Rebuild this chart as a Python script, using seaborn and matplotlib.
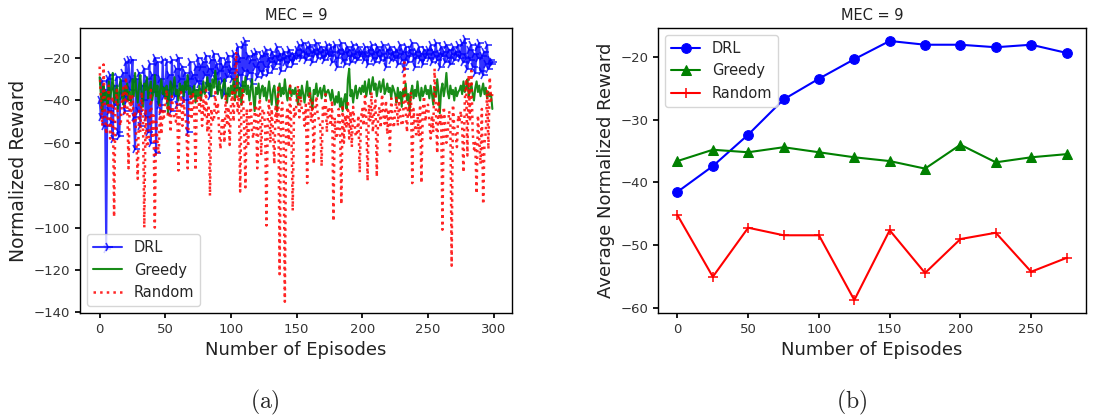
import numpy as np
import pandas as pd
import matplotlib
matplotlib.use("Agg")
import matplotlib.pyplot as plt
import seaborn as sns

# ---- per-episode normalized reward (left panel) ----
drl_reward = [
    -40, -48, -31, -52, -35, -110, -30, -45, -28, -50, -58, -33, -42, -29, -55, -57, -31, -38, -27, -45, -22, -40, -21, -35, -30,
    -21, -48, -63, -30, -45, -27, -52, -33, -40, -25, -48, -30, -55, -23, -60, -28, -36, -20, -65, -22, -42, -30, -45, -21, -38,
    -35, -22, -40, -28, -45, -21, -33, -38, -25, -42, -20, -30, -36, -24, -40, -27, -33, -55, -30, -22, -38, -28, -35, -24, -31,
    -20, -32, -24, -36, -22, -28, -19, -33, -25, -38, -21, -27, -18, -30, -23, -35, -26, -20, -31, -24, -37, -22, -29, -19, -27,
    -25, -30, -18, -34, -22, -15, -28, -20, -33, -14, -26, -12, -30, -19, -27, -21, -32, -18, -24, -17, -29, -22, -26, -19, -28,
    -18, -24, -16, -27, -20, -22, -17, -25, -19, -23, -15, -21, -18, -26, -20, -17, -22, -19, -24, -16, -21, -18, -23, -19, -20,
    -16, -19, -14, -20, -17, -13, -18, -21, -15, -19, -14, -17, -22, -16, -18, -13, -20, -17, -15, -19, -16, -21, -18, -14, -17,
    -19, -15, -22, -17, -14, -20, -24, -16, -18, -13, -21, -17, -23, -15, -19, -16, -22, -18, -14, -20, -17, -21, -15, -19, -18,
    -17, -21, -15, -19, -23, -16, -18, -14, -20, -17, -22, -15, -19, -16, -21, -18, -14, -20, -24, -16, -18, -15, -21, -17, -19,
    -20, -16, -23, -18, -14, -21, -17, -25, -15, -19, -22, -16, -18, -13, -20, -24, -17, -19, -15, -21, -18, -23, -16, -20, -18,
    -16, -20, -14, -22, -17, -19, -13, -21, -18, -24, -15, -19, -17, -22, -14, -20, -16, -23, -18, -15, -21, -17, -19, -14, -20,
    -18, -13, -22, -11, -20, -25, -16, -21, -14, -24, -18, -27, -15, -20, -13, -26, -19, -28, -17, -23, -14, -25, -21, -23, -22,
]

greedy_reward = [
    -29, -38, -45, -33, -40, -36, -42, -31, -39, -35, -27, -41, -37, -33, -44, -35, -30, -38, -42, -34, -37, -32, -40, -36, -41,
    -30, -38, -27, -36, -41, -33, -28, -37, -43, -32, -35, -29, -39, -34, -31, -40, -36, -28, -38, -33, -42, -35, -30, -37, -34,
    -39, -33, -46, -36, -31, -38, -34, -29, -37, -35, -40, -32, -36, -33, -38, -31, -35, -28, -37, -34, -39, -36, -33, -41, -35,
    -38, -33, -40, -36, -31, -37, -34, -29, -35, -32, -38, -30, -34, -26, -33, -37, -31, -35, -39, -33, -30, -36, -41, -34, -38,
    -33, -37, -30, -40, -35, -28, -38, -34, -42, -31, -36, -29, -37, -33, -40, -35, -30, -38, -45, -34, -37, -32, -39, -35, -33,
    -38, -34, -40, -36, -31, -37, -42, -35, -33, -39, -45, -36, -32, -38, -34, -37, -30, -36, -40, -35, -33, -38, -35, -37, -34,
    -38, -42, -35, -39, -33, -37, -41, -36, -31, -38, -34, -40, -44, -35, -37, -32, -38, -36, -34, -39, -35, -33, -38, -36, -35,
    -37, -40, -35, -39, -42, -38, -41, -36, -43, -39, -45, -40, -37, -44, -30, -25, -38, -35, -41, -36, -33, -39, -36, -34, -37,
    -33, -36, -31, -38, -34, -30, -37, -33, -29, -35, -32, -38, -34, -31, -36, -33, -30, -37, -35, -32, -36, -34, -39, -33, -35,
    -37, -41, -34, -39, -36, -43, -35, -38, -32, -40, -37, -45, -36, -33, -39, -35, -38, -31, -37, -40, -34, -38, -36, -33, -37,
    -35, -39, -33, -37, -42, -34, -38, -30, -36, -46, -35, -32, -38, -34, -27, -36, -39, -33, -37, -35, -40, -34, -38, -36, -35,
    -33, -37, -31, -36, -34, -30, -38, -35, -32, -37, -40, -34, -31, -36, -33, -38, -35, -32, -37, -34, -39, -36, -38, -37, -44,
]

random_reward = [
    -24, -40, -52, -23, -45, -56, -50, -33, -58, -42, -38, -95, -44, -35, -48, -50, -52, -40, -34, -46, -29, -41, -72, -37, -45,
    -38, -50, -45, -60, -77, -42, -55, -36, -48, -100, -44, -62, -60, -53, -35, -58, -47, -100, -50, -59, -65, -42, -56, -45, -48,
    -40, -35, -48, -42, -55, -38, -45, -48, -50, -41, -73, -44, -36, -52, -40, -47, -51, -72, -43, -38, -49, -36, -44, -73, -40,
    -38, -45, -36, -52, -40, -47, -35, -55, -42, -85, -44, -49, -50, -36, -46, -41, -55, -63, -50, -48, -60, -37, -52, -43, -61,
    -42, -36, -50, -30, -17, -45, -38, -83, -40, -35, -52, -81, -44, -62, -48, -40, -55, -58, -46, -42, -72, -45, -39, -66, -44,
    -45, -52, -99, -48, -40, -60, -44, -55, -70, -42, -50, -33, -122, -47, -41, -58, -135, -50, -43, -62, -33, -55, -92, -44, -48,
    -40, -33, -48, -38, -45, -45, -52, -42, -79, -44, -36, -50, -41, -70, -45, -38, -47, -49, -52, -71, -42, -48, -37, -55, -43,
    -45, -52, -40, -97, -48, -58, -56, -44, -50, -89, -42, -60, -47, -53, -40, -58, -45, -62, -43, -50, -57, -55, -47, -74, -48,
    -44, -52, -38, -47, -78, -42, -50, -36, -55, -45, -40, -76, -48, -43, -53, -37, -46, -51, -40, -56, -44, -64, -39, -48, -53,
    -45, -38, -52, -40, -47, -52, -50, -22, -43, -55, -41, -48, -36, -79, -44, -52, -56, -46, -57, -42, -79, -45, -38, -50, -43,
    -42, -50, -58, -47, -55, -25, -44, -65, -40, -52, -46, -101, -43, -50, -60, -56, -45, -48, -118, -42, -53, -56, -62, -47, -50,
    -45, -52, -74, -40, -30, -66, -28, -50, -26, -55, -63, -60, -84, -47, -58, -70, -44, -89, -60, -55, -35, -63, -29, -40, -37,
]

# ---- average normalized reward per 25-episode block (right panel) ----
block_start = [0, 25, 50, 75, 100, 125, 150, 175, 200, 225, 250, 275]
drl_avg = [-41.5, -37.4, -32.4, -26.8, -23.5, -20.4, -17.5, -18.1, -18.1, -18.5, -18.1, -19.4]
greedy_avg = [-36.6, -34.8, -35.2, -34.4, -35.2, -36.0, -36.6, -37.8, -34.0, -36.8, -36.0, -35.5]
random_avg = [-45.2, -55.0, -47.2, -48.4, -48.4, -58.7, -47.6, -54.4, -49.0, -48.0, -54.2, -52.0]

episodes = np.arange(len(drl_reward))

sns.set_theme(style="ticks", rc={
    "axes.edgecolor": "black",
    "axes.linewidth": 1.0,
    "xtick.color": "black",
    "ytick.color": "black",
    "xtick.labelcolor": "#333333",
    "ytick.labelcolor": "#333333",
    "xtick.labelsize": 9.5,
    "ytick.labelsize": 9.5,
    "xtick.major.size": 3.5,
    "ytick.major.size": 3.5,
    "legend.fontsize": 10.5,
    "mathtext.fontset": "cm",
})
plt.rcParams["font.family"] = ["DejaVu Sans"]

fig = plt.figure(figsize=(10.97, 4.17), dpi=100)
W, H = 1097, 417
ax1 = fig.add_axes([80 / W, 1 - 313 / H, (512 - 80) / W, (313 - 28) / H])
ax2 = fig.add_axes([658 / W, 1 - 313 / H, (1086 - 658) / W, (313 - 28) / H])

# (a) per-episode rewards
sns.lineplot(x=episodes, y=drl_reward, ax=ax1, color="blue", alpha=0.8,
             marker="4", markersize=7, markeredgecolor="blue", markeredgewidth=1.2,
             linewidth=1.5, label="DRL")
sns.lineplot(x=episodes, y=greedy_reward, ax=ax1, color="green", alpha=0.9,
             linewidth=1.5, label="Greedy")
sns.lineplot(x=episodes, y=random_reward, ax=ax1, color="red", alpha=0.85,
             linestyle=":", linewidth=1.8, label="Random")
ax1.set_ylim(-140.3, -5.8)
ax1.set_xticks([0, 50, 100, 150, 200, 250, 300])
ax1.set_title("MEC = 9", fontsize=10.5, color="#222222")
ax1.set_xlabel("Number of Episodes", fontsize=13, color="#222222")
ax1.set_ylabel("Normalized Reward", fontsize=13.5, color="#222222")
ax1.legend(loc="lower left", fancybox=True, framealpha=0.8, edgecolor="0.8")

# (b) block averages
sns.lineplot(x=block_start, y=drl_avg, ax=ax2, color="blue", marker="o",
             markersize=7, markeredgecolor="blue", linewidth=1.5, label="DRL")
sns.lineplot(x=block_start, y=greedy_avg, ax=ax2, color="green", marker="^",
             markersize=7, markeredgecolor="green", linewidth=1.5, label="Greedy")
sns.lineplot(x=block_start, y=random_avg, ax=ax2, color="red", marker="+",
             markersize=7, markeredgecolor="red", markeredgewidth=1.1,
             linewidth=1.5, label="Random")
ax2.set_title("MEC = 9", fontsize=10.5, color="#222222")
ax2.set_xlabel("Number of Episodes", fontsize=13, color="#222222")
ax2.set_ylabel("Average Normalized Reward", fontsize=13, color="#222222")
ax2.legend(loc="upper left", fancybox=True, framealpha=0.8, edgecolor="0.8")

fig.text(265 / W, 1 - 402 / H, r"$\mathrm{(a)}$", fontsize=17, ha="center", va="center")
fig.text(852 / W, 1 - 402 / H, r"$\mathrm{(b)}$", fontsize=17, ha="center", va="center")

fig.savefig("out.png", dpi=100, facecolor="white")
